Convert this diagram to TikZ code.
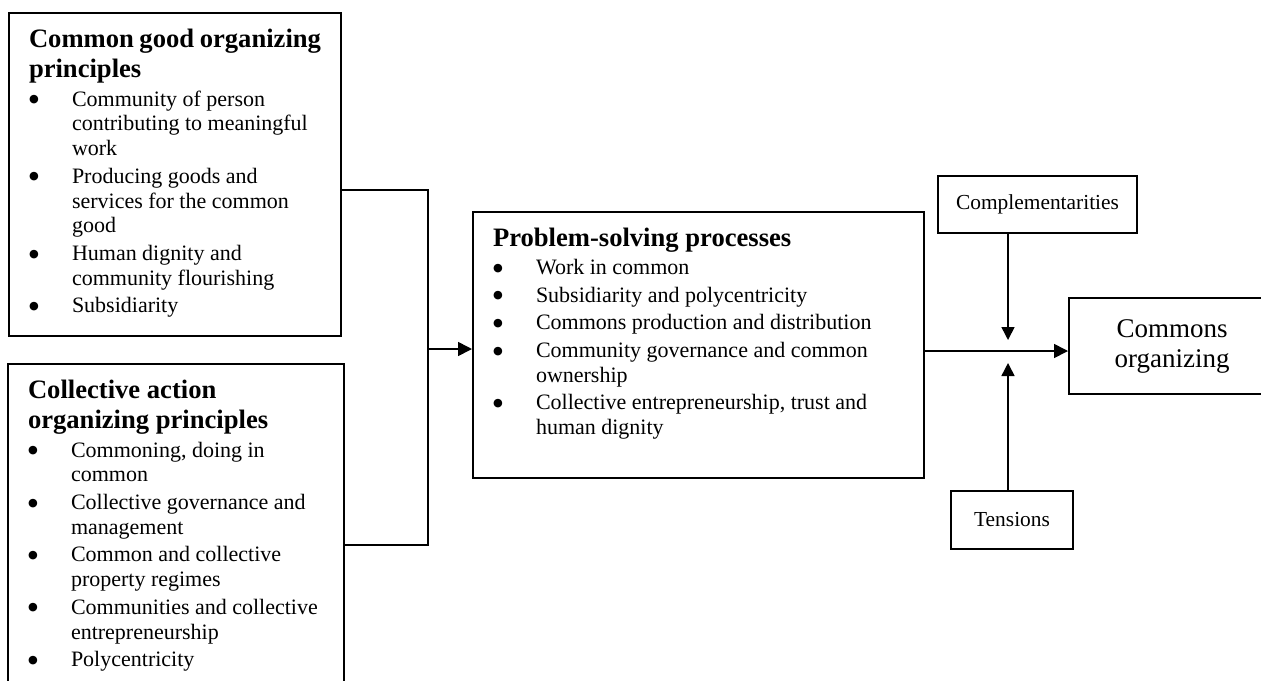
\documentclass[tikz,border=0pt]{standalone}
\usepackage{fontspec}
\setmainfont{Liberation Serif}
\newfontfamily\dotfont{DejaVu Sans}
\usetikzlibrary{arrows.meta,positioning}

\newcommand{\boxhead}[1]{{\fontsize{13.3}{15.2}\selectfont\bfseries\rule{0pt}{17pt}#1\par}%
  \setlength{\parskip}{1.4pt}\vspace{0.5pt}}
\newcommand{\bitem}{\par\hangindent=21.5pt\hangafter=1\noindent
  \makebox[21.5pt][l]{\raisebox{1.7pt}{\dotfont\fontsize{5.6}{6}\selectfont ●}}}

\begin{document}
\begin{tikzpicture}[x=0.5pt, y=-0.5pt, every node/.style={font=\fontsize{11}{12.4}\selectfont},
    box/.style={draw, line width=1pt, anchor=north west, inner xsep=10pt, inner ysep=0pt},
    tag/.style={draw, line width=1pt, anchor=north west, align=center, inner sep=2pt}]
    \useasboundingbox (0,0) rectangle (1261,680);

    \node[box] (cgp) at (8,12) {\begin{minipage}[t][161.5pt][t]{146pt}
        \boxhead{Common good organizing\\principles}
        \bitem Community of person\\contributing to meaningful\\work
        \bitem Producing goods and\\services for the common\\good
        \bitem Human dignity and\\community flourishing
        \bitem Subsidiarity
      \end{minipage}};
    \node[box] (cap) at (7,363) {\begin{minipage}[t][170pt][t]{148pt}
        \boxhead{Collective action\\organizing principles}
        \bitem Commoning, doing in\\common
        \bitem Collective governance and\\management
        \bitem Common and collective\\property regimes
        \bitem Communities and collective\\entrepreneurship
        \bitem Polycentricity
      \end{minipage}};
    \node[box] (psp) at (472,211) {\begin{minipage}[t][133pt][t]{205.5pt}
        \boxhead{Problem-solving processes}
        \bitem Work in common
        \bitem Subsidiarity and polycentricity
        \bitem Commons production and distribution
        \bitem Community governance and common\\ownership
        \bitem Collective entrepreneurship, trust and\\human dignity
      \end{minipage}};

    \node[tag, minimum width=99.5pt, minimum height=28.5pt, font=\fontsize{10.7}{12}\selectfont] (comp) at (937,175) {Complementarities};
    \node[tag, minimum width=61pt, minimum height=29pt, font=\fontsize{10.7}{12}\selectfont] (tens) at (950,490) {Tensions};
    \node[tag, minimum width=103pt, minimum height=48pt, font=\fontsize{13.5}{15}\selectfont] (co) at (1068,297) {Commons\\organizing};

    \coordinate (jtop) at (428,190);
    \coordinate (jmid) at (428,349);
    \coordinate (jbot) at (428,545);
    \coordinate (mrg) at (1008,351);
    \coordinate (ctip) at (1008,340);
    \coordinate (ttip) at (1008,363);

    \draw[line width=0.8pt] (cgp.east |- jtop) -- (jtop) -- (jbot) -- (cap.east |- jbot);
    \draw[line width=0.8pt, -{Triangle[length=7pt,width=7pt]}] (jmid) -- (psp.west |- jmid);
    \draw[line width=0.8pt, -{Triangle[length=7pt,width=7pt]}] (psp.east |- mrg) -- (co.west |- mrg);
    \draw[line width=0.8pt, -{Triangle[length=6.5pt,width=6.5pt]}] (comp.south -| mrg) -- (ctip);
    \draw[line width=0.8pt, -{Triangle[length=6.5pt,width=6.5pt]}] (tens.north -| mrg) -- (ttip);
  \end{tikzpicture}
\end{document}
